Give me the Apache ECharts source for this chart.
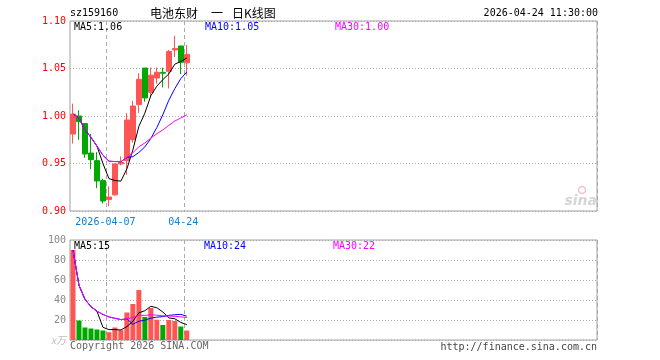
<!DOCTYPE html>
<html><head><meta charset="utf-8">
<script src="https://cdn.jsdelivr.net/npm/echarts@6/dist/echarts.min.js"></script>
<style>html,body{margin:0;padding:0;background:#fff}#c{width:660px;height:360px}</style>
</head><body><div id="c"></div>
<script>
const code = 'sz159160';
const titleParts = ['电池东财', '一', '日K线图'];
const stamp = '2026-04-24 11:30:00';
const dates = ['2026-03-27','2026-03-30','2026-03-31','2026-04-01','2026-04-02','2026-04-03','2026-04-07','2026-04-08','2026-04-09','2026-04-10','2026-04-13','2026-04-14','2026-04-15','2026-04-16','2026-04-17','2026-04-20','2026-04-21','2026-04-22','2026-04-23','2026-04-24'];
const openP  = [0.981,1.000,0.992,0.961,0.953,0.932,0.912,0.917,0.9495,0.953,0.975,1.012,1.0505,1.025,1.040,1.046,1.047,1.0695,1.0737,1.056];
const closeP = [1.002,0.994,0.960,0.954,0.9316,0.9105,0.9147,0.9495,0.951,0.9958,1.0105,1.0386,1.019,1.043,1.046,1.045,1.068,1.071,1.0565,1.065];
const highP  = [1.013,1.006,0.992,0.981,0.962,0.934,0.926,0.950,0.9575,1.003,1.016,1.045,1.0505,1.051,1.051,1.051,1.0695,1.0845,1.0737,1.0747];
const lowP   = [0.971,0.975,0.956,0.944,0.924,0.908,0.905,0.916,0.948,0.938,0.972,1.003,1.015,1.020,1.034,1.030,1.029,1.062,1.044,1.0424];
const volume = [90,19.5,12.5,11.5,10.5,9.5,7.8,12.5,9.8,27.5,36,50,23,32,20.3,15,20,19,13.5,9.5];
const totalSlots = 88;
const markIdx = [6, 19];
const priceTicks = {min: 0.90, max: 1.10, interval: 0.05};
const volTicks = {min: 0, max: 100, interval: 20};

const UP = '#ff5555', DOWN = '#00a800';
const MONO = '"DejaVu Sans Mono", monospace';
const cats = dates.concat(Array.from({length: totalSlots - dates.length}, (_, i) => 'pad' + i));

function ma(arr, n) {
  return arr.map((_, i) => {
    const s = Math.max(0, i - n + 1);
    let sum = 0;
    for (let k = s; k <= i; k++) sum += arr[k];
    return +(sum / (i - s + 1)).toFixed(5);
  });
}
const candle = dates.map((_, i) => [openP[i], closeP[i], lowP[i], highP[i]]);
const pMA5 = ma(closeP, 5), pMA10 = ma(closeP, 10), pMA30 = ma(closeP, 30);
const vMA5 = ma(volume, 5), vMA10 = ma(volume, 10), vMA30 = ma(volume, 30);
const volBars = volume.map((v, i) => ({value: v, itemStyle: {color: closeP[i] >= openP[i] ? UP : DOWN}}));
const last = a => a[a.length - 1];

const chart = echarts.init(document.getElementById('c'), null, {renderer: 'canvas'});
const xAx = (gi, labels) => ({
  type: 'category', gridIndex: gi, data: cats, boundaryGap: true,
  axisLine: {show: false}, axisTick: {show: false},
  axisLabel: labels ? {
    show: true, interval: (i) => markIdx.includes(i), color: '#0a80d8',
    fontFamily: MONO, fontSize: 10, margin: 6, padding: [0, 7, 0, 0],
    formatter: (v, i) => (i === markIdx[0] ? v : v.slice(5))
  } : {show: false},
  splitLine: {show: true, interval: (i) => markIdx.includes(i), lineStyle: {color: '#aaa', type: [4, 3], width: 1}}
});
const txt = (x, y, text, fill, font, align) => ({
  type: 'text', silent: true, z: 100,
  style: {x, y, text, fill, font: font || ('10px ' + MONO), textAlign: align || 'left', textVerticalAlign: 'middle'}
});
const CJK = '12px "Noto Sans CJK SC"';

chart.setOption({
  animation: false,
  backgroundColor: '#fff',
  grid: [
    {left: 70, right: 63, top: 21, height: 190, show: true, borderColor: '#a0a0a0', borderWidth: 1, backgroundColor: 'transparent'},
    {left: 70, right: 63, top: 240, height: 100, show: true, borderColor: '#a0a0a0', borderWidth: 1, backgroundColor: 'transparent'}
  ],
  xAxis: [xAx(0, true), xAx(1, false)],
  yAxis: [
    {type: 'value', gridIndex: 0, min: priceTicks.min, max: priceTicks.max, interval: priceTicks.interval,
     axisLine: {show: false}, axisTick: {show: false},
     axisLabel: {color: '#f00', fontFamily: MONO, fontSize: 10, margin: 4, formatter: v => v.toFixed(2)},
     splitLine: {show: true, lineStyle: {color: '#aaa', type: [1, 2]}}},
    {type: 'value', gridIndex: 1, min: volTicks.min, max: volTicks.max, interval: volTicks.interval,
     axisLine: {show: false}, axisTick: {show: false},
     axisLabel: {color: '#888', fontFamily: MONO, fontSize: 10, margin: 4,
       formatter: v => (v === 0 ? '{u|x万}' : String(v)),
       rich: {u: {color: '#bbb', fontSize: 10, fontStyle: 'italic', fontFamily: 'Noto Sans CJK SC'}}},
     splitLine: {show: true, lineStyle: {color: '#aaa', type: [1, 2]}}}
  ],
  series: [
    {type: 'candlestick', xAxisIndex: 0, yAxisIndex: 0, data: candle, barWidth: 5,
     itemStyle: {color: UP, color0: DOWN, borderColor: UP, borderColor0: DOWN, borderWidth: 1}},
    {type: 'line', xAxisIndex: 0, yAxisIndex: 0, data: pMA5, showSymbol: false, lineStyle: {color: '#000', width: 1}, z: 5},
    {type: 'line', xAxisIndex: 0, yAxisIndex: 0, data: pMA10, showSymbol: false, lineStyle: {color: '#0000ff', width: 1}, z: 5},
    {type: 'line', xAxisIndex: 0, yAxisIndex: 0, data: pMA30, showSymbol: false, lineStyle: {color: '#ff00ff', width: 1}, z: 5},
    {type: 'bar', xAxisIndex: 1, yAxisIndex: 1, data: volBars, barWidth: 5},
    {type: 'line', xAxisIndex: 1, yAxisIndex: 1, data: vMA5, showSymbol: false, lineStyle: {color: '#000', width: 1}, z: 5},
    {type: 'line', xAxisIndex: 1, yAxisIndex: 1, data: vMA10, showSymbol: false, lineStyle: {color: '#0000ff', width: 1}, z: 5},
    {type: 'line', xAxisIndex: 1, yAxisIndex: 1, data: vMA30, showSymbol: false, lineStyle: {color: '#ff00ff', width: 1}, z: 5}
  ],
  graphic: [
    txt(70, 13, code, '#000'),
    txt(150, 13, titleParts[0], '#000', CJK),
    txt(217, 13, titleParts[1], '#000', CJK, 'center'),
    txt(232, 13, titleParts[2], '#000', CJK),
    txt(598, 13, stamp, '#000', null, 'right'),
    txt(74, 27, 'MA5:' + last(pMA5).toFixed(2), '#000'),
    txt(205, 27, 'MA10:' + last(pMA10).toFixed(2), '#0000ff'),
    txt(335, 27, 'MA30:' + last(pMA30).toFixed(2), '#ff00ff'),
    txt(74, 246, 'MA5:' + Math.round(last(vMA5)), '#000'),
    txt(204, 246, 'MA10:' + Math.round(last(vMA10)), '#0000ff'),
    txt(333, 246, 'MA30:' + Math.round(last(vMA30)), '#ff00ff'),
    txt(70, 346, 'Copyright 2026 SINA.COM', '#666'),
    txt(597, 347, 'http://finance.sina.com.cn', '#444', null, 'right'),
    {type: 'circle', silent: true, z: 100, shape: {cx: 582, cy: 190, r: 3.5}, style: {fill: 'none', stroke: '#f5c0c0', lineWidth: 1.5}},
    txt(597, 201, 'sina', '#d6d6d6', 'italic bold 14px "DejaVu Sans"', 'right')
  ]
});
</script></body></html>
